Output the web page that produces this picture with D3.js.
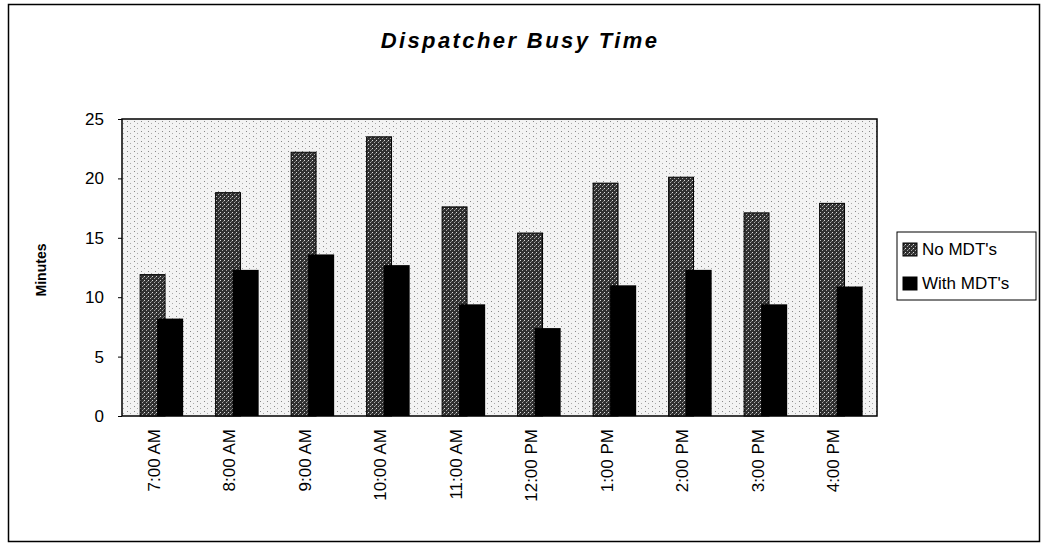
<!DOCTYPE html>
<html>
<head>
<meta charset="utf-8">
<script src="https://cdn.jsdelivr.net/npm/d3@7"></script>
<style>
  body { margin: 0; background: #fff; }
  svg text { font-family: "Liberation Sans", Arial, sans-serif; fill: #000; }
</style>
</head>
<body>
<div id="chart"></div>
<script>
// values
const hours = ["7:00 AM", "8:00 AM", "9:00 AM", "10:00 AM", "11:00 AM", "12:00 PM", "1:00 PM", "2:00 PM", "3:00 PM", "4:00 PM"];
const noMDT = [11.9, 18.8, 22.2, 23.5, 17.6, 15.4, 19.6, 20.1, 17.1, 17.9];
const withMDT = [8.2, 12.3, 13.6, 12.7, 9.4, 7.4, 11.0, 12.3, 9.4, 10.9];
const yTicks = [0, 5, 10, 15, 20, 25];
const seriesNames = ["No MDT's", "With MDT's"];

const W = 1042, H = 544;
const plot = { left: 122, right: 877, top: 119, bottom: 416 };

const svg = d3.select("#chart").append("svg")
    .attr("width", W)
    .attr("height", H);

svg.append("rect").attr("width", W).attr("height", H).attr("fill", "#fff");

// speckle patterns for the plot area and the "No MDT's" bars
const defs = svg.append("defs");
const bgPat = defs.append("pattern")
    .attr("id", "bgDots")
    .attr("width", 7).attr("height", 5)
    .attr("patternUnits", "userSpaceOnUse");
bgPat.append("rect").attr("width", 7).attr("height", 5).attr("fill", "#f3f3f3");
bgPat.append("rect").attr("x", 1).attr("y", 1).attr("width", 1).attr("height", 1).attr("fill", "#888");
bgPat.append("rect").attr("x", 4).attr("y", 3).attr("width", 1).attr("height", 1).attr("fill", "#aaa");

const barPat = defs.append("pattern")
    .attr("id", "barDots")
    .attr("width", 4).attr("height", 4)
    .attr("patternUnits", "userSpaceOnUse");
barPat.append("rect").attr("width", 4).attr("height", 4).attr("fill", "#303030");
barPat.append("rect").attr("x", 0).attr("y", 0).attr("width", 1).attr("height", 1).attr("fill", "#ddd");
barPat.append("rect").attr("x", 2).attr("y", 2).attr("width", 1).attr("height", 1).attr("fill", "#aaa");
barPat.append("rect").attr("x", 3).attr("y", 1).attr("width", 1).attr("height", 1).attr("fill", "#777");

// outer border
svg.append("rect")
    .attr("x", 8.5).attr("y", 4.5)
    .attr("width", 1031).attr("height", 537)
    .attr("fill", "none")
    .attr("stroke", "#000")
    .attr("stroke-width", 1.5);

// title
svg.append("text")
    .attr("x", 520)
    .attr("y", 48)
    .attr("text-anchor", "middle")
    .style("font-size", "22px")
    .style("font-weight", "bold")
    .style("font-style", "italic")
    .style("letter-spacing", "2.4px")
    .text("Dispatcher  Busy Time");

const xScale = d3.scaleBand()
    .domain(hours)
    .range([plot.left, plot.right]);

const yScale = d3.scaleLinear()
    .domain([0, 25])
    .range([plot.bottom, plot.top]);

// plot area
svg.append("rect")
    .attr("x", plot.left).attr("y", plot.top)
    .attr("width", plot.right - plot.left)
    .attr("height", plot.bottom - plot.top)
    .attr("fill", "url(#bgDots)")
    .attr("stroke", "#000")
    .attr("stroke-width", 1.5);

const bw = xScale.bandwidth();

svg.selectAll(".barNo")
    .data(hours)
    .join("rect")
    .attr("class", "barNo")
    .attr("x", d => xScale(d) + bw * 0.24)
    .attr("y", (d, i) => yScale(noMDT[i]))
    .attr("width", bw * 0.33)
    .attr("height", (d, i) => yScale(0) - yScale(noMDT[i]))
    .attr("fill", "url(#barDots)")
    .attr("stroke", "#000")
    .attr("stroke-width", 1);

svg.selectAll(".barWith")
    .data(hours)
    .join("rect")
    .attr("class", "barWith")
    .attr("x", d => xScale(d) + bw * 0.465)
    .attr("y", (d, i) => yScale(withMDT[i]))
    .attr("width", bw * 0.345)
    .attr("height", (d, i) => yScale(0) - yScale(withMDT[i]))
    .attr("fill", "#000");

// y axis
const yAxis = svg.append("g")
    .attr("transform", "translate(" + plot.left + ",0)")
    .call(d3.axisLeft(yScale).tickValues(yTicks).tickSize(4).tickPadding(14));
yAxis.select(".domain").remove();
yAxis.selectAll("text")
    .style("font-size", "17px")
    .style("font-family", "Liberation Sans, Arial, sans-serif");

svg.append("text")
    .attr("transform", "translate(46,270) rotate(-90)")
    .attr("text-anchor", "middle")
    .style("font-size", "14px")
    .style("font-weight", "bold")
    .text("Minutes");

// x axis: rotated labels under each category
const xAxis = svg.append("g")
    .attr("transform", "translate(0," + plot.bottom + ")")
    .call(d3.axisBottom(xScale).tickSize(0).tickFormat(""));
xAxis.select(".domain").remove();

svg.selectAll(".xlab")
    .data(hours)
    .join("text")
    .attr("class", "xlab")
    .attr("transform", d => "translate(" + (xScale(d) + bw / 2 - 6) + "," + (plot.bottom + 13) + ") rotate(-90)")
    .attr("text-anchor", "end")
    .attr("dy", "0.35em")
    .style("font-size", "17px")
    .text(d => d);

// legend
const legend = svg.append("g").attr("transform", "translate(897,232)");
legend.append("rect")
    .attr("width", 139).attr("height", 68)
    .attr("fill", "#fff")
    .attr("stroke", "#000")
    .attr("stroke-width", 1);
const legFills = ["url(#barDots)", "#000"];
seriesNames.forEach((name, i) => {
    legend.append("rect")
        .attr("x", 6).attr("y", 11 + i * 34)
        .attr("width", 14).attr("height", 13)
        .attr("fill", legFills[i])
        .attr("stroke", "#000");
    legend.append("text")
        .attr("x", 25).attr("y", 23 + i * 34)
        .style("font-size", "17px")
        .text(name);
});
</script>
</body>
</html>
